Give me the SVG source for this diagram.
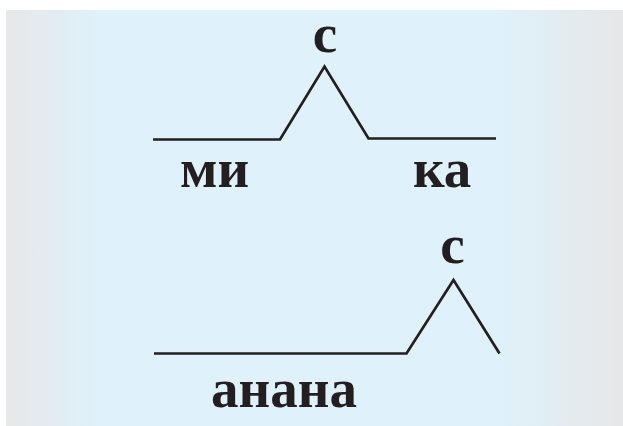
<svg xmlns="http://www.w3.org/2000/svg" width="623" height="426" viewBox="0 0 623 426">
<defs>
<linearGradient id="bg" x1="0" y1="0" x2="1" y2="0">
<stop offset="0" stop-color="#e7e7e7"/>
<stop offset="0.15" stop-color="#dff1fa"/>
<stop offset="0.8" stop-color="#dff1fa"/>
<stop offset="1" stop-color="#e7e7e7"/>
</linearGradient>
<style>
.t{font-family:"Liberation Serif","Times New Roman",serif;font-weight:bold;font-size:55px;fill:#231f20}
.l{fill:none;stroke:#231f20;stroke-width:2.7;stroke-linejoin:miter;stroke-linecap:butt}
</style>
</defs>
<rect width="623" height="426" fill="#ffffff"/>
<rect x="6" y="10" width="617" height="416" fill="url(#bg)"/>
<g id="connectors">
<polyline class="l" points="153,139.5 280,139.5 324.5,66.5 368.5,138.5 496,138.5"/>
<polyline class="l" points="154,353.5 406.5,353.5 453.5,280 499.5,353.5"/>
</g>
<g id="word1">
<text class="t" x="325" y="52" text-anchor="middle">с</text>
<text class="t" x="180" y="187">ми</text>
<text class="t" x="413" y="187">ка</text>
</g>
<g id="word2">
<text class="t" x="452.5" y="263" text-anchor="middle">с</text>
<text class="t" x="211" y="407">анана</text>
</g>
</svg>
